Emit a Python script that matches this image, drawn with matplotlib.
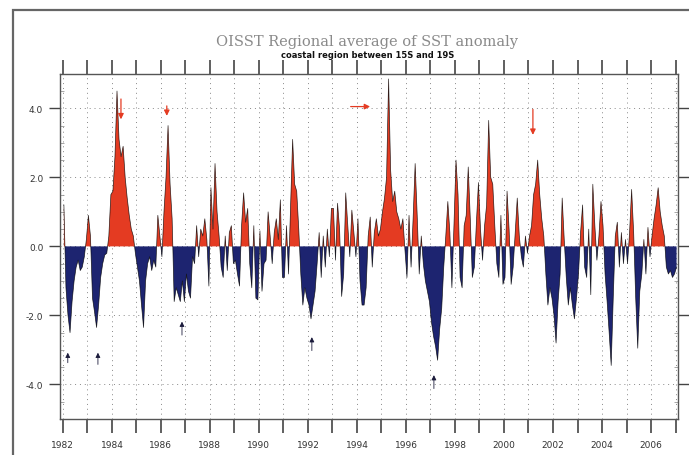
import numpy as np
import matplotlib
matplotlib.use("Agg")
import matplotlib.pyplot as plt
from matplotlib.patches import Rectangle
from matplotlib.ticker import FixedLocator, FuncFormatter, MultipleLocator

# monthly SST anomaly (deg C), Jan..Dec
anom_1982 = [1.2, -1.2, -2.0, -2.5, -1.6, -1.0, -0.6, -0.4, -0.7, -0.6, -0.3, 0.2]
anom_1983 = [0.9, 0.3, -1.5, -1.9, -2.35, -1.7, -0.9, -0.5, -0.25, -0.2, 0.3, 1.5]
anom_1984 = [1.6, 2.6, 4.5, 3.1, 2.6, 2.9, 2.0, 1.4, 0.9, 0.5, 0.3, -0.2]
anom_1985 = [-0.6, -1.0, -1.7, -2.35, -1.0, -0.5, -0.3, -0.7, -0.4, -0.6, 0.9, 0.3]
anom_1986 = [-0.3, 1.0, 2.0, 3.5, 1.8, 0.8, -1.6, -1.2, -1.4, -1.6, -1.0, -1.6]
anom_1987 = [-0.8, -1.3, -1.5, -0.3, -0.5, 0.6, -0.3, 0.5, 0.3, 0.8, 0.2, -1.15]
anom_1988 = [1.7, 0.5, 2.4, 1.0, 0.3, -0.6, -0.9, 0.3, -0.7, 0.4, 0.6, -0.5]
anom_1989 = [-0.4, -0.8, -1.15, 0.6, 1.55, 0.7, 1.1, -0.5, -1.2, 0.6, -1.5, -1.55]
anom_1990 = [0.45, -1.3, -0.5, -0.4, 1.0, 0.3, -0.5, 0.4, 0.8, 0.2, 1.35, -0.9]
anom_1991 = [-0.9, 0.6, -0.8, 1.2, 3.1, 1.8, 1.6, 0.5, -0.8, -1.7, -1.2, -1.5]
anom_1992 = [-1.7, -2.1, -1.7, -1.3, -0.5, 0.4, -0.9, 0.3, -0.6, 0.5, -0.3, 1.1]
anom_1993 = [1.1, -0.4, 1.25, 0.5, -1.45, -0.8, 1.55, 0.6, -0.3, 1.05, 0.4, -0.3]
anom_1994 = [0.8, -1.0, -1.7, -1.7, -1.2, 0.3, 0.85, -0.6, 0.4, 0.8, 0.3, 0.5]
anom_1995 = [1.0, 1.4, 2.0, 4.85, 2.2, 1.3, 1.6, 1.0, 0.8, 0.5, 0.8, -0.1]
anom_1996 = [-0.9, 0.9, -0.6, 0.8, 2.4, 0.9, -0.8, 0.3, -0.5, -1.0, -1.3, -1.6]
anom_1997 = [-2.2, -2.6, -2.9, -3.3, -2.4, -1.8, -0.6, 0.3, 1.3, 0.4, -1.2, 0.6]
anom_1998 = [2.5, 1.5, -0.9, -1.2, 0.6, 0.9, 2.3, 0.8, -0.9, -0.6, 0.7, 1.85]
anom_1999 = [0.5, -0.4, 0.6, 1.2, 3.65, 2.0, 1.8, 0.6, -0.5, -0.9, 0.9, -1.1]
anom_2000 = [-0.9, 1.6, 0.5, -1.1, -0.6, 0.4, 1.4, 0.3, -0.3, -0.6, 0.3, -0.2]
anom_2001 = [0.3, 0.6, 1.5, 1.8, 2.5, 1.5, 0.8, 0.3, -0.8, -1.7, -1.2, -1.5]
anom_2002 = [-2.0, -2.8, -1.6, -0.8, 1.4, 0.2, -0.9, -1.7, -1.2, -1.7, -2.1, -1.5]
anom_2003 = [-0.8, 0.4, 1.2, -0.6, -0.9, 0.5, -1.4, 1.8, 0.6, -0.4, 0.3, 1.3]
anom_2004 = [0.6, -0.8, -1.6, -2.5, -3.45, -1.5, 0.3, 0.7, -0.6, 0.4, -0.5, 0.2]
anom_2005 = [-0.5, 0.4, 1.65, 0.4, -1.5, -2.95, -1.3, -0.8, 0.2, -0.8, 0.55, -0.3]
anom_2006 = [0.3, 0.8, 1.2, 1.7, 1.0, 0.6, 0.3, -0.6, -0.8, -0.7, -0.9, -0.8]
anom_2007 = [-0.6]

# event arrows (year, value from, value to)
warm_arrows = [(1984.37, 4.35, 3.6), (1986.24, 4.15, 3.7), (2001.18, 4.05, 3.15)]
warm_hz_arrow = (1993.63, 1994.65, 4.05)
cold_arrows = [(1982.2, -3.45, -3.0), (1983.43, -3.5, -3.0), (1986.86, -2.65, -2.1),
               (1992.16, -3.1, -2.55), (1997.14, -4.2, -3.65)]

anom = np.array(anom_1982 + anom_1983 + anom_1984 + anom_1985 + anom_1986 + anom_1987
                + anom_1988 + anom_1989 + anom_1990 + anom_1991 + anom_1992 + anom_1993
                + anom_1994 + anom_1995 + anom_1996 + anom_1997 + anom_1998 + anom_1999
                + anom_2000 + anom_2001 + anom_2002 + anom_2003 + anom_2004 + anom_2005
                + anom_2006 + anom_2007)
t = 1982 + (np.arange(len(anom)) + 0.5) / 12.0

red = "#e43b22"
navy = "#1d2470"

fig = plt.figure(figsize=(6.89, 4.56), dpi=100)
ax = fig.add_axes([0.087, 0.079, 0.897, 0.757])

ax.fill_between(t, anom, 0, where=anom >= 0, interpolate=True, color=red, lw=0)
ax.fill_between(t, anom, 0, where=anom <= 0, interpolate=True, color=navy, lw=0)
ax.plot(t, anom, color="k", lw=0.5, alpha=0.8)

ax.set_xlim(1981.88, 2007.1)
ax.set_ylim(-5, 5)

ax.xaxis.set_major_locator(FixedLocator(range(1982, 2008)))
ax.xaxis.set_major_formatter(FuncFormatter(lambda v, p: str(int(round(v))) if int(round(v)) % 2 == 0 and v < 2007 else ""))
ax.yaxis.set_major_locator(MultipleLocator(2))
ax.yaxis.set_minor_locator(MultipleLocator(0.5))
ax.yaxis.set_major_formatter(FuncFormatter(lambda v, p: "%.1f" % v))

ax.tick_params(axis="x", which="major", top=True, direction="out", length=10,
               width=1.2, color="#444444", labelsize=6.5, labelcolor="#333333", pad=5)
ax.tick_params(axis="y", which="major", right=True, direction="out", length=8,
               width=1.0, color="#444444", labelsize=6.5, labelcolor="#333333", pad=4)
ax.tick_params(axis="y", which="minor", left=True, right=True, direction="in", length=3,
               width=0.6, color="#999999")

ax.grid(True, which="major", axis="both", linestyle=(0, (1, 4)), color="#888888", lw=0.7)
ax.set_axisbelow(True)

for s in ax.spines.values():
    s.set_color("#555555")
    s.set_linewidth(1.0)

for x, y0, y1 in warm_arrows:
    ax.annotate("", xy=(x, y1), xytext=(x, y0),
                arrowprops=dict(arrowstyle="-|>", color=red, lw=0.9, mutation_scale=8))
ax.annotate("", xy=(warm_hz_arrow[1], warm_hz_arrow[2]), xytext=(warm_hz_arrow[0], warm_hz_arrow[2]),
            arrowprops=dict(arrowstyle="-|>", color=red, lw=0.9, mutation_scale=8))
for x, y0, y1 in cold_arrows:
    ax.annotate("", xy=(x, y1), xytext=(x, y0),
                arrowprops=dict(arrowstyle="-|>", color="#1a1a3a", lw=0.6, mutation_scale=7))

fig.text(0.533, 0.908, "OISST Regional average of SST anomaly", ha="center", va="center",
         fontsize=10.5, family="DejaVu Serif", color="#8a8a8a")
fig.text(0.533, 0.878, "coastal region between 15S and 19S", ha="center", va="center",
         fontsize=6, fontweight="bold", color="#111111")

# outer frame of the page
fig.add_artist(Rectangle((0.019, -0.1), 1.1, 1.076, transform=fig.transFigure,
                         fill=False, ec="#666666", lw=1.6))

fig.savefig("out.png", dpi=100)
